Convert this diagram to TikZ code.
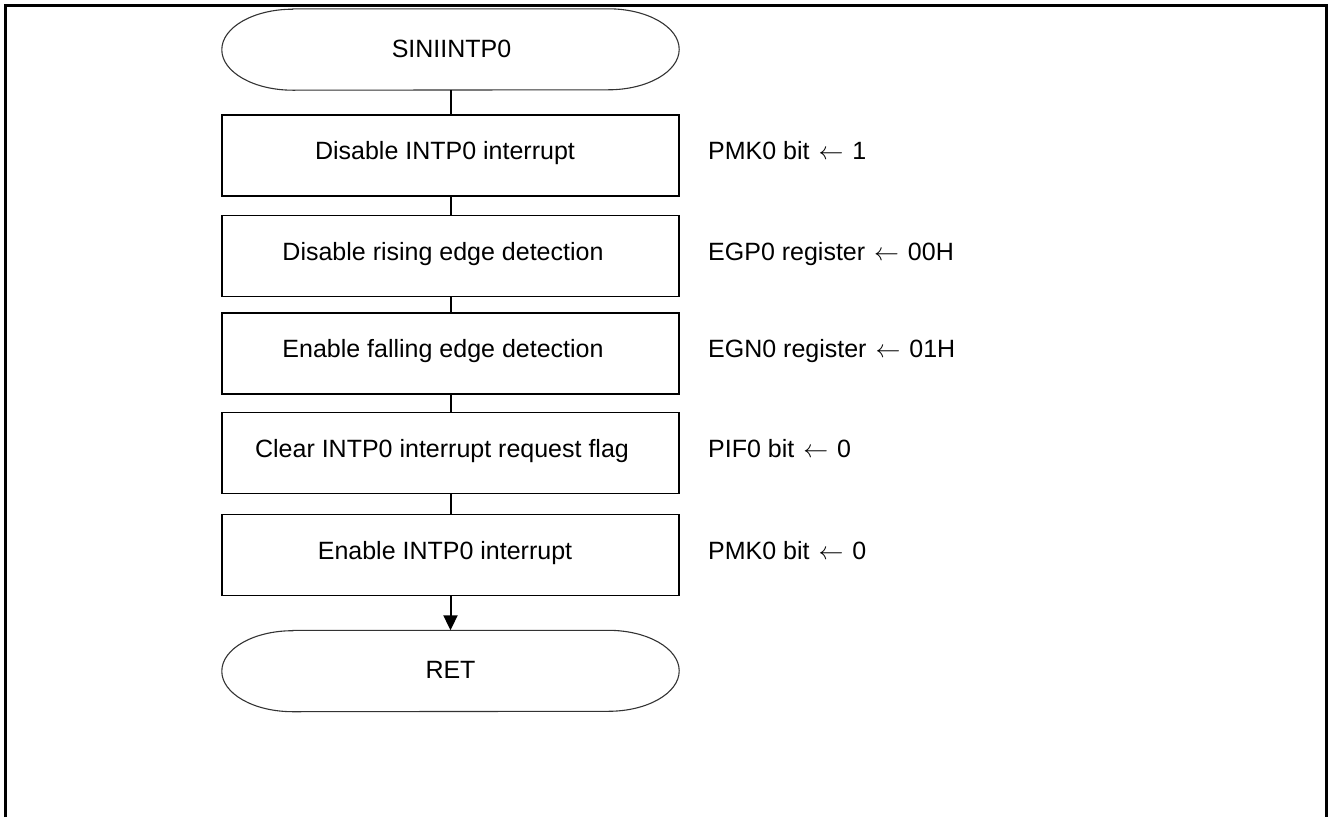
\documentclass[tikz,border=0pt]{standalone}
\usepackage{fontspec}
\setmainfont{Liberation Sans}
\usetikzlibrary{arrows.meta}

% assignment arrow used in the register notes
\newcommand{\assignto}{\hspace{2pt}$\leftarrow$\hspace{2pt}}

\begin{document}
\begin{tikzpicture}[x=1pt,y=-1pt,
  every node/.style={font=\fontsize{25}{30}\selectfont},
  procbox/.style={draw, line width=1.8pt, minimum width=457pt, minimum height=81pt, inner sep=0pt},
  termbox/.style={minimum width=457pt, minimum height=81pt, inner sep=0pt},
  termline/.style={line width=1.1pt, draw=black!80},
  boxtext/.style={anchor=base, inner sep=0pt},
  note/.style={anchor=base west, inner sep=0pt},
  flow/.style={line width=2pt},
  frameline/.style={line width=3pt}]

\useasboundingbox (0,0) rectangle (1328,817);

% open-bottomed outer frame
\draw[frameline] (5.5,817) -- (5.5,5.5) -- (1326,5.5) -- (1326,817);

% terminator outline with elliptical ends
\newcommand{\termoutline}[1]{%
  \draw[termline] ([xshift=71pt]#1.north west) -- ([xshift=-71pt]#1.north east)
    arc[start angle=90, end angle=-90, x radius=71pt, y radius=40.5pt]
    -- ([xshift=71pt]#1.south west)
    arc[start angle=270, end angle=90, x radius=71pt, y radius=40.5pt] -- cycle;}

% start terminator
\node[termbox] (start) at (450.5,49.5) {};
\termoutline{start}
\node[boxtext] (starttext) at (451.5,57) {SINIINTP0};

% processing steps
\node[procbox] (b1) at (450.5,155.75) {};
\node[procbox] (b2) at (450.5,256) {};
\node[procbox] (b3) at (450.5,353.7) {};
\node[procbox] (b4) at (450.5,453) {};
\node[procbox] (b5) at (450.5,555) {};

\node[boxtext] (t1) at (445,159.75) {Disable INTP0 interrupt};
\node[boxtext] (t2) at (443,260) {Disable rising edge detection};
\node[boxtext] (t3) at (443,357.7) {Enable falling edge detection};
\node[boxtext] (t4) at (442,457) {Clear INTP0 interrupt request flag};
\node[boxtext] (t5) at (445,559) {Enable INTP0 interrupt};

% register settings beside each step
\node[note] (n1) at (708,159.75) {PMK0 bit \assignto{} 1};
\node[note] (n2) at (708,260) {EGP0 register \assignto{} 00H};
\node[note] (n3) at (708,357.7) {EGN0 register \assignto{} 01H};
\node[note] (n4) at (708,457) {PIF0 bit \assignto{} 0};
\node[note] (n5) at (708,559) {PMK0 bit \assignto{} 0};

% end terminator
\node[termbox] (ret) at (450.5,671) {};
\termoutline{ret}
\node[boxtext] (rettext) at (450.5,678.5) {RET};

% flow lines
\draw[flow] (start.south) -- (b1.north);
\draw[flow] (b1.south) -- (b2.north);
\draw[flow] (b2.south) -- (b3.north);
\draw[flow] (b3.south) -- (b4.north);
\draw[flow] (b4.south) -- (b5.north);
\draw[flow, -{Triangle[width=14pt,length=15pt]}] (b5.south) -- (ret.north);

\end{tikzpicture}
\end{document}
